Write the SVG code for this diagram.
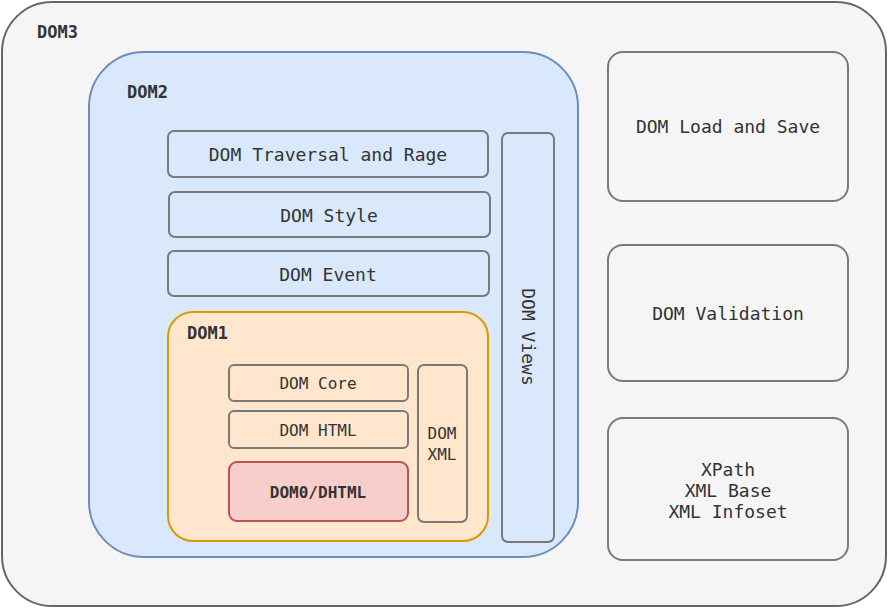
<svg xmlns="http://www.w3.org/2000/svg" width="888" height="611" viewBox="0 0 888 611">
<style>
text{font-family:"DejaVu Sans Mono","Liberation Mono",monospace;fill:#333;dominant-baseline:central}
.t{font-size:18px;text-anchor:middle}
.s{font-size:16px;text-anchor:middle}
.b{font-weight:bold;font-size:17px}
.box{fill:none;stroke:#7a7a7a;stroke-width:2}
.gbox{fill:#f5f5f5;stroke:#7a7a7a;stroke-width:2}
</style>
<rect width="888" height="611" fill="#ffffff"/>
<g id="dom3">
<rect x="2" y="2" width="884" height="604" rx="50" fill="#f5f5f5" stroke="#666" stroke-width="2"/>
<text class="b" x="37" y="32">DOM3</text>
</g>
<g id="dom2">
<rect x="89" y="52" width="489" height="505" rx="55" fill="#dae8fc" stroke="#6c8ebf" stroke-width="2"/>
<text class="b" x="127" y="92">DOM2</text>
</g>
<g id="traversal">
<rect class="box" x="168" y="131" width="320" height="46" rx="6"/>
<text class="t" x="328" y="154">DOM Traversal and Rage</text>
</g>
<g id="style">
<rect class="box" x="169" y="192" width="321" height="45" rx="6"/>
<text class="t" x="329" y="215">DOM Style</text>
</g>
<g id="event">
<rect class="box" x="168" y="251" width="321" height="45" rx="6"/>
<text class="t" x="328" y="274">DOM Event</text>
</g>
<g id="views">
<rect class="box" x="502" y="133" width="52" height="409" rx="6"/>
<text class="t" transform="translate(528,337) rotate(90)">DOM Views</text>
</g>
<g id="dom1">
<rect x="168" y="312" width="320" height="229" rx="25" fill="#ffe6cc" stroke="#d79b00" stroke-width="2"/>
<text class="b" x="187" y="333">DOM1</text>
</g>
<g id="core">
<rect class="box" x="229" y="365" width="179" height="36" rx="5"/>
<text class="s" x="318" y="383">DOM Core</text>
</g>
<g id="html">
<rect class="box" x="229" y="411" width="179" height="37" rx="5"/>
<text class="s" x="318" y="430">DOM HTML</text>
</g>
<g id="dom0">
<rect x="229" y="462" width="179" height="59" rx="8" fill="#f8cecc" stroke="#b85450" stroke-width="2"/>
<text class="s" x="318" y="492" font-weight="bold">DOM0/DHTML</text>
</g>
<g id="xml">
<rect class="box" x="418" y="365" width="49" height="157" rx="6"/>
<text class="s" x="442" y="433">DOM</text>
<text class="s" x="442" y="454">XML</text>
</g>
<g id="loadsave">
<rect class="gbox" x="608" y="52" width="240" height="149" rx="15"/>
<text class="t" x="728" y="126">DOM Load and Save</text>
</g>
<g id="validation">
<rect class="gbox" x="608" y="245" width="240" height="136" rx="15"/>
<text class="t" x="728" y="313">DOM Validation</text>
</g>
<g id="xpath">
<rect class="gbox" x="608" y="418" width="240" height="142" rx="15"/>
<text class="t" x="728" y="469">XPath</text>
<text class="t" x="728" y="490">XML Base</text>
<text class="t" x="728" y="511">XML Infoset</text>
</g>
<g id="connectors"></g>
</svg>
